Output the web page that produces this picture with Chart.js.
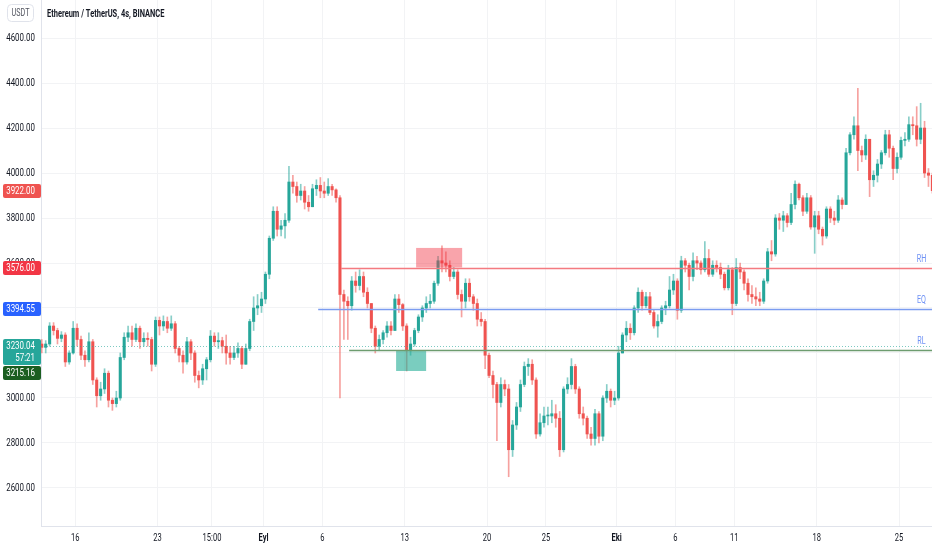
<!DOCTYPE html>
<html lang="tr">
<head>
<meta charset="UTF-8">
<title>Ethereum / TetherUS, 4s, BINANCE</title>
<script src="https://cdn.jsdelivr.net/npm/chart.js"></script>
<style>
  html, body { margin: 0; padding: 0; background: #ffffff; }
  #wrap { width: 932px; height: 550px; }
</style>
</head>
<body>
<div id="wrap"><canvas id="chart" width="932" height="550"></canvas></div>
<script>
// candles every 8 hours from 13 Aug 00:00, x value = days since 16 Aug
const startDay = -3;
const candleDays = 1 / 3;
const firstOpen = 3240;

// three candles per line = one day
const closes = [
  3225, 3240, 3320,  3300, 3265, 3280,  3160, 3200, 3310,  3260, 3190, 3170, // 13-16 Aug
  3250, 3080, 3010,  3040, 3110, 2990,  2975, 3000, 3180,  3270, 3290, 3260, // 17-20
  3310, 3250, 3265,  3260, 3150, 3345,  3320, 3340, 3310,  3330, 3220, 3190, // 21-24
  3160, 3250, 3200,  3100, 3080, 3130,  3170, 3275, 3250,  3255, 3230, 3200, // 25-28
  3180, 3200, 3220,  3150, 3220, 3340,  3400, 3410, 3440,                    // 29-31
  3550, 3710, 3830,  3750, 3765, 3790,  3960, 3940, 3900,  3920, 3870, 3850, // 1-4 Eyl
  3930, 3945, 3920,  3910, 3940, 3925,  3890, 3460, 3430,  3410, 3520, 3500, // 5-8
  3540, 3470, 3420,  3310, 3230, 3260,  3290, 3320, 3300,  3440, 3415, 3320, // 9-12
  3210, 3240, 3300,  3360, 3400, 3420,  3430, 3510, 3610,  3600, 3590, 3540, // 13-16
  3560, 3460, 3430,  3510, 3450, 3420,  3350, 3340, 3190,  3100, 3060, 2980, // 17-20
  3060, 3040, 2770,  2880, 2960, 3060,  3140, 3150, 3080,  2840, 2890, 2920, // 21-24
  2920, 2930, 2910,  2770, 3040, 3060,  3140, 3040, 2930,  2910, 2840, 2820, // 25-28
  2930, 2830, 3000,  3030, 2990, 3000,                                       // 29-30
  3200, 3280, 3310,  3290, 3400, 3470,  3410, 3450, 3380,  3320, 3340, 3400, // 1-4 Eki
  3410, 3480, 3520,  3390, 3610, 3590,  3540, 3610, 3600,  3570, 3620, 3550, // 5-8
  3590, 3580, 3550,  3490, 3570, 3420,  3580, 3560, 3510,  3460, 3450, 3440, // 9-12
  3430, 3520, 3650,  3640, 3800, 3790,  3810, 3780, 3860,  3950, 3890, 3830, // 13-16
  3890, 3760, 3810,  3750, 3720, 3840,  3800, 3790, 3880,  3860, 4090, 4170, // 17-20
  4210, 4100, 4080,  4150, 3970, 3990,  4040, 4090, 4170,  4110, 4020, 4070, // 21-24
  4145, 4150, 4215,  4210, 4150, 4200,  4000, 3990, 3922                     // 25-27
];
const highs = [
  3260, 3255, 3335,  3335, 3310, 3295,  3290, 3210, 3340,  3330, 3275, 3210,
  3290, 3260, 3090,  3070, 3130, 3120,  3000, 3030, 3200,  3290, 3320, 3320,
  3330, 3320, 3290,  3290, 3270, 3360,  3360, 3365, 3360,  3365, 3340, 3230,
  3210, 3270, 3260,  3210, 3120, 3150,  3180, 3300, 3290,  3290, 3270, 3280,
  3230, 3230, 3245,  3230, 3240, 3350,  3450, 3460, 3470,
  3560, 3720, 3850,  3850, 3790, 3820,  4030, 3990, 3960,  3950, 3940, 3900,
  3950, 3970, 3980,  3960, 3975, 3950,  3930, 3900, 3480,  3450, 3540, 3560,
  3570, 3560, 3490,  3420, 3320, 3280,  3300, 3340, 3340,  3460, 3460, 3420,
  3330, 3270, 3310,  3370, 3410, 3450,  3460, 3520, 3630,  3676, 3650, 3610,
  3580, 3570, 3480,  3530, 3530, 3460,  3440, 3380, 3350,  3200, 3120, 3070,
  3090, 3080, 3060,  2900, 2980, 3080,  3160, 3175, 3170,  3090, 2930, 2960,
  2960, 2990, 2970,  2940, 3050, 3090,  3175, 3150, 3050,  2960, 2920, 2870,
  2950, 2940, 3010,  3060, 3040, 3030,
  3230, 3290, 3340,  3330, 3410, 3490,  3480, 3470, 3470,  3390, 3370, 3410,
  3430, 3540, 3550,  3530, 3630, 3620,  3600, 3645, 3630,  3610, 3695, 3660,
  3610, 3610, 3600,  3560, 3590, 3580,  3620, 3600, 3570,  3530, 3500, 3490,
  3470, 3530, 3665,  3700, 3815, 3820,  3830, 3820, 3910,  3965, 3955, 3900,
  3910, 3900, 3830,  3830, 3760, 3850,  3850, 3830, 3900,  3890, 4110, 4180,
  4250, 4376, 4120,  4170, 4150, 4010,  4060, 4100, 4190,  4190, 4120, 4090,
  4160, 4180, 4250,  4250, 4295, 4310,  4230, 4020, 4000
];
const lows = [
  3200, 3200, 3230,  3280, 3240, 3250,  3140, 3150, 3195,  3230, 3170, 3140,
  3160, 3060, 2960,  2990, 3020, 2960,  2945, 2960, 2990,  3170, 3250, 3230,
  3250, 3220, 3230,  3230, 3120, 3140,  3280, 3300, 3290,  3300, 3200, 3160,
  3110, 3150, 3170,  3070, 3045, 3060,  3080, 3160, 3230,  3220, 3200, 3150,
  3150, 3170, 3180,  3130, 3150, 3210,  3300, 3370, 3380,
  3420, 3530, 3700,  3720, 3720, 3710,  3780, 3910, 3870,  3880, 3840, 3830,
  3850, 3900, 3890,  3890, 3900, 3900,  3870, 3000, 3260,  3260, 3390, 3470,
  3480, 3450, 3400,  3290, 3200, 3210,  3240, 3270, 3280,  3300, 3380, 3300,
  3120, 3190, 3230,  3290, 3340, 3380,  3400, 3420, 3500,  3560, 3560, 3520,
  3530, 3440, 3360,  3400, 3430, 3390,  3320, 3320, 3130,  3090, 3000, 2810,
  2960, 3010, 2650,  2740, 2860, 2940,  3050, 3100, 3060,  2820, 2830, 2870,
  2880, 2890, 2870,  2740, 2760, 3020,  3040, 3020, 2910,  2880, 2820, 2790,
  2790, 2800, 2810,  2980, 2960, 2970,
  2990, 3200, 3250,  3260, 3280, 3380,  3390, 3400, 3370,  3310, 3270, 3330,
  3370, 3400, 3460,  3350, 3380, 3560,  3480, 3520, 3570,  3550, 3560, 3540,
  3540, 3560, 3530,  3480, 3480, 3370,  3410, 3530, 3480,  3430, 3420, 3410,
  3410, 3420, 3510,  3610, 3630, 3750,  3740, 3760, 3770,  3840, 3880, 3810,
  3820, 3750, 3643,  3730, 3680, 3710,  3780, 3770, 3780,  3840, 3860, 4080,
  4150, 4010, 4050,  4060, 3895, 3940,  3960, 4020, 4080,  4070, 3970, 4000,
  4060, 4120, 4140,  4170, 4120, 4130,  3980, 3940, 3910
];

const priceTicks = [2600, 2800, 3000, 3200, 3400, 3600, 3800, 4000, 4200, 4400, 4600];
const timeTicks = [0, 7, 11.625, 16, 21, 28, 35, 40, 46, 51, 56, 63, 70];
const timeLabels = ['16', '23', '15:00', 'Eyl', '6', '13', '20', '25', 'Eki', '6', '11', '18', '25'];
const monthLabels = ['Eyl', 'Eki'];

// drawn levels
const levelNames = ['RH', 'EQ', 'RL'];
const levelPrices = [3576.00, 3394.55, 3215.16];
const levelStarts = [22.6, 20.65, 23.28];
const levelColors = ['#f47a80', '#7b9cf0', '#6d9c6f'];
const levelTagColors = ['#f23645', '#2962ff', '#1b5e20'];

// drawn zones
const zoneFrom = [28.97, 27.27];
const zoneTo = [32.88, 29.82];
const zoneTop = [3667, 3213];
const zoneBottom = [3580, 3120];
const zoneColors = ['rgba(242,54,69,0.45)', 'rgba(34,171,148,0.6)'];

const livePrice = 3230.04;
const countdown = '57:21';

const upColor = '#26a69a';
const downColor = '#ef5350';
const textColor = '#131722';
const gridColor = '#f2f3f5';
const axisColor = '#e0e3eb';
const family = 'Roboto, "Liberation Sans", sans-serif';
const squeeze = 0.72;  // the screenshot text is horizontally condensed

const opens = closes.map((c, i) => i === 0 ? firstOpen : closes[i - 1]);
const times = closes.map((c, i) => startDay + (i + 0.5) * candleDays);
const rising = closes.map((c, i) => c >= opens[i]);

function text(ctx, s, x, y, align, font, color, sx) {
  const k = sx || squeeze;
  ctx.save();
  ctx.font = font;
  ctx.fillStyle = color;
  ctx.textAlign = align;
  ctx.textBaseline = 'middle';
  ctx.scale(k, 1);
  ctx.fillText(s, x / k, y);
  ctx.restore();
}

const overlay = {
  id: 'overlay',
  afterDatasetsDraw(chart) {
    const { ctx, chartArea: a, scales: { x, y } } = chart;
    ctx.save();
    ctx.beginPath();
    ctx.rect(a.left, a.top, a.right - a.left, a.bottom - a.top);
    ctx.clip();

    zoneFrom.forEach((t, i) => {
      const x0 = x.getPixelForValue(t), x1 = x.getPixelForValue(zoneTo[i]);
      const y0 = y.getPixelForValue(zoneTop[i]), y1 = y.getPixelForValue(zoneBottom[i]);
      ctx.fillStyle = zoneColors[i];
      ctx.fillRect(x0, y0, x1 - x0, y1 - y0);
    });

    // live price dotted line
    const ly = Math.round(y.getPixelForValue(livePrice)) + 0.5;
    ctx.strokeStyle = 'rgba(38,166,154,0.6)';
    ctx.lineWidth = 1;
    ctx.setLineDash([1, 2]);
    ctx.beginPath(); ctx.moveTo(a.left, ly); ctx.lineTo(a.right, ly); ctx.stroke();
    ctx.setLineDash([]);

    levelPrices.forEach((p, i) => {
      const py = Math.round(y.getPixelForValue(p)) + 0.5;
      ctx.strokeStyle = levelColors[i];
      ctx.lineWidth = 1.3;
      ctx.beginPath();
      ctx.moveTo(x.getPixelForValue(levelStarts[i]), py);
      ctx.lineTo(a.right, py);
      ctx.stroke();
      text(ctx, levelNames[i], a.right - 10.5, py - 9.5, 'center', '10px ' + family, '#6f92f5');
    });
    ctx.restore();
  },
  afterDraw(chart) {
    const { ctx, chartArea: a, scales: { x, y } } = chart;
    ctx.save();

    // axis labels
    priceTicks.forEach(v => {
      text(ctx, v.toFixed(2), 35, y.getPixelForValue(v), 'right', '11px ' + family, textColor);
    });
    timeTicks.forEach((t, i) => {
      const bold = monthLabels.includes(timeLabels[i]);
      text(ctx, timeLabels[i], x.getPixelForValue(t), a.bottom + 12, 'center',
        (bold ? 'bold ' : '') + '10.5px ' + family, textColor);
    });

    // price tags on the scale
    function tag(top, h, color, lines) {
      ctx.fillStyle = color;
      ctx.beginPath();
      ctx.roundRect(3, top, 38, h, 2);
      ctx.fill();
      lines.forEach((s, k) => text(ctx, s, 35, top + 7.5 + k * 12, 'right', '11px ' + family, '#ffffff'));
    }
    const last = closes[closes.length - 1];
    tag(Math.round(y.getPixelForValue(last)) - 7, 14, rising[closes.length - 1] ? upColor : downColor, [last.toFixed(2)]);
    tag(Math.round(y.getPixelForValue(levelPrices[0])) - 7, 14, levelTagColors[0], [levelPrices[0].toFixed(2)]);
    tag(Math.round(y.getPixelForValue(levelPrices[1])) - 7, 14, levelTagColors[1], [levelPrices[1].toFixed(2)]);
    const liveTop = Math.round(y.getPixelForValue(livePrice)) - 7;
    tag(liveTop, 26, upColor, [livePrice.toFixed(2), countdown]);
    const rlTop = Math.max(Math.round(y.getPixelForValue(levelPrices[2])) - 7, liveTop + 27);
    tag(rlTop, 14, levelTagColors[2], [levelPrices[2].toFixed(2)]);

    // header
    ctx.strokeStyle = axisColor;
    ctx.lineWidth = 1;
    ctx.beginPath();
    ctx.roundRect(7.5, 4.5, 26, 17, 4);
    ctx.stroke();
    text(ctx, 'USDT', 20.5, 13.5, 'center', '10px ' + family, '#50535e');
    text(ctx, 'Ethereum / TetherUS, 4s, BINANCE', 47, 14.5, 'left', 'bold 11px ' + family, textColor, 0.68);
    ctx.restore();
  }
};

new Chart(document.getElementById('chart'), {
  type: 'bar',
  data: {
    datasets: [
      {
        label: 'wick',
        data: times.map((t, i) => ({ x: t, y: [lows[i], Math.max(highs[i], opens[i], closes[i])] })),
        backgroundColor: rising.map(r => r ? 'rgba(38,166,154,0.55)' : 'rgba(239,83,80,0.55)'),
        barThickness: 1,
        grouped: false,
        order: 2
      },
      {
        label: 'body',
        data: times.map((t, i) => ({ x: t, y: [opens[i], closes[i]] })),
        backgroundColor: rising.map(r => r ? upColor : downColor),
        barThickness: 2.4,
        minBarLength: 1,
        grouped: false,
        order: 1
      }
    ]
  },
  options: {
    responsive: false,
    animation: false,
    layout: { padding: 0 },
    plugins: { legend: { display: false }, tooltip: { enabled: false } },
    scales: {
      x: {
        type: 'linear',
        min: -2.9,
        max: 72.8,
        offset: false,
        afterBuildTicks: s => { s.ticks = timeTicks.map(v => ({ value: v })); },
        afterFit: s => { s.height = 24; s.paddingLeft = 0; s.paddingRight = 0; },
        ticks: { display: false },
        grid: { color: gridColor, drawTicks: false, offset: false },
        border: { color: axisColor }
      },
      y: {
        position: 'left',
        min: 2431,
        max: 4769,
        afterBuildTicks: s => { s.ticks = priceTicks.map(v => ({ value: v })); },
        afterFit: s => { s.width = 41; s.paddingTop = 0; s.paddingBottom = 0; },
        ticks: { display: false },
        grid: { color: gridColor, drawTicks: false },
        border: { color: axisColor }
      }
    }
  },
  plugins: [overlay]
});
</script>
</body>
</html>
